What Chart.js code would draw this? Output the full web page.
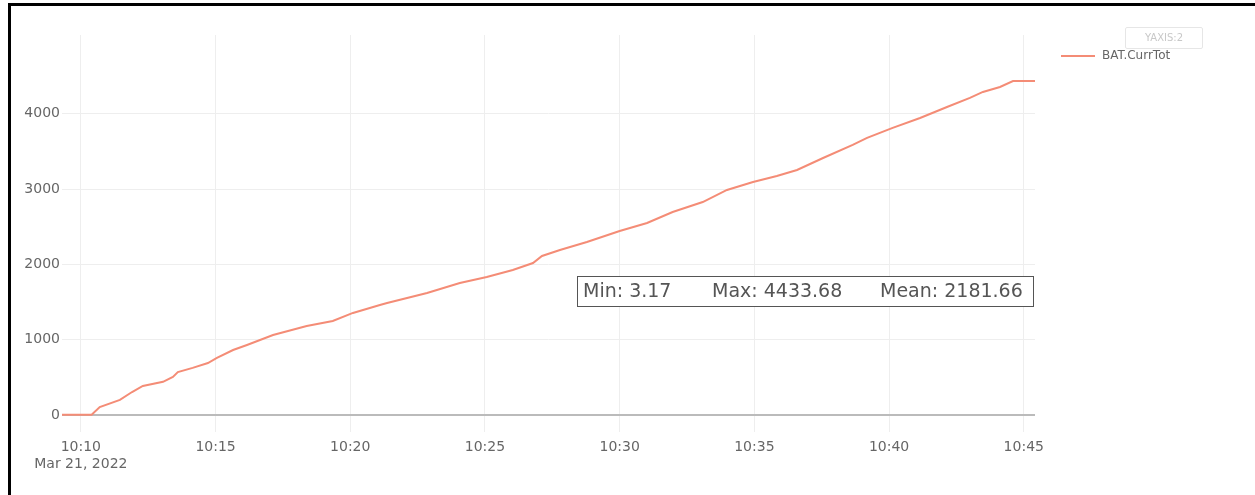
<!DOCTYPE html>
<html>
<head>
<meta charset="utf-8">
<script src="https://cdn.jsdelivr.net/npm/chart.js@4.4.0/dist/chart.umd.min.js"></script>
<style>
  html, body { margin: 0; padding: 0; background: #fff; }
  #wrap { position: relative; width: 1255px; height: 495px; }
  #frame-top { position: absolute; left: 8px; top: 3px; width: 1247px; height: 3px; background: #000; }
  #frame-left { position: absolute; left: 8px; top: 3px; width: 3px; height: 492px; background: #000; }
  #yaxis-btn {
    position: absolute; left: 1125px; top: 27px; width: 76px; height: 20px;
    border: 1px solid #e6e6e6; border-radius: 2px;
    font: 10px "DejaVu Sans", sans-serif; color: #c8c8c8;
    text-align: center; line-height: 20px;
  }
</style>
</head>
<body>
<div id="wrap">
  <canvas id="my-chart" width="1255" height="495"></canvas>
  <div id="frame-top"></div>
  <div id="frame-left"></div>
  <div id="yaxis-btn">YAXIS:2</div>
</div>
<script>
"use strict";

// sample times (hh:mm:ss) and the BAT.CurrTot reading at each one
const times = [
  "10:09:18", "10:10:24", "10:10:42", "10:11:27", "10:11:54", "10:12:18",
  "10:13:03", "10:13:25", "10:13:36", "10:14:09", "10:14:43", "10:15:03",
  "10:15:39", "10:16:10", "10:17:08", "10:18:23", "10:19:21", "10:20:06",
  "10:21:06", "10:21:22", "10:22:51", "10:24:04", "10:25:04", "10:26:02",
  "10:26:47", "10:27:07", "10:27:47", "10:28:47", "10:30:00", "10:31:01",
  "10:31:58", "10:33:05", "10:33:59", "10:34:57", "10:35:50", "10:36:35",
  "10:37:33", "10:38:39", "10:39:11", "10:40:08", "10:41:09", "10:42:09",
  "10:43:00", "10:43:29", "10:44:07", "10:44:36", "10:45:25",
];
const currTot = [
  3.17, 3.17, 106, 200, 305, 385,
  440, 505, 570, 625, 690, 757,
  863, 930, 1062, 1182, 1248, 1355,
  1460, 1487, 1620, 1753, 1833, 1926,
  2018, 2111, 2191, 2297, 2443, 2549,
  2695, 2828, 2988, 3094, 3174, 3253,
  3413, 3586, 3679, 3812, 3944, 4090,
  4210, 4290, 4356, 4433.68, 4433.68,
];
const meanValue = 2181.66;

const xTickLabels = ["10:10", "10:15", "10:20", "10:25", "10:30", "10:35", "10:40", "10:45"];
const dateLabel = "Mar 21, 2022";
const yTicks = [0, 1000, 2000, 3000, 4000];
const seriesName = "BAT.CurrTot";

const lineColor = "rgb(244, 140, 118)";
const fontFamily = '"DejaVu Sans", sans-serif';

function toMinutes(hms) {
  const parts = hms.split(":").map(Number);
  return parts[0] * 60 + parts[1] + (parts[2] || 0) / 60;
}

function fmtMinutes(m) {
  const h = Math.floor(m / 60);
  const mm = Math.round(m - h * 60);
  return h + ":" + String(mm).padStart(2, "0");
}

const points = [];
for (let i = 0; i < times.length; i++) {
  points.push({ x: toMinutes(times[i]), y: currTot[i] });
}

// legend + stats box, drawn after the chart
const overlayPlugin = {
  id: "overlay",
  afterDraw(chart) {
    const ctx = chart.ctx;
    ctx.save();

    // legend entry
    ctx.strokeStyle = lineColor;
    ctx.lineWidth = 2;
    ctx.beginPath();
    ctx.moveTo(1061, 56);
    ctx.lineTo(1095, 56);
    ctx.stroke();
    ctx.fillStyle = "#666";
    ctx.font = "12px " + fontFamily;
    ctx.textBaseline = "middle";
    ctx.fillText(seriesName, 1102, 56);

    // min / max / mean box
    const minV = Math.min(...currTot);
    const maxV = Math.max(...currTot);
    ctx.fillStyle = "#fff";
    ctx.fillRect(577, 276, 456, 30);
    ctx.strokeStyle = "#555";
    ctx.lineWidth = 1;
    ctx.strokeRect(577.5, 276.5, 456, 30);
    ctx.fillStyle = "#555";
    ctx.font = "19px " + fontFamily;
    ctx.fillText("Min: " + minV.toFixed(2), 583, 292);
    ctx.fillText("Max: " + maxV.toFixed(2), 712, 292);
    ctx.fillText("Mean: " + meanValue.toFixed(2), 880, 292);

    ctx.restore();
  },
};

const ctx = document.getElementById("my-chart");

new Chart(ctx, {
  type: "line",
  data: {
    datasets: [
      {
        label: seriesName,
        data: points,
        borderColor: lineColor,
        borderWidth: 2,
        pointRadius: 0,
        tension: 0,
      },
    ],
  },
  options: {
    responsive: false,
    animation: false,
    layout: { padding: { top: 35, right: 220, left: 0, bottom: 0 } },
    plugins: {
      legend: { display: false },
      tooltip: { enabled: false },
    },
    scales: {
      x: {
        type: "linear",
        min: points[0].x,
        max: points[points.length - 1].x,
        afterBuildTicks(scale) {
          scale.ticks = xTickLabels.map((t) => ({ value: toMinutes(t) }));
        },
        afterFit(scale) {
          scale.height = 63;
        },
        border: { display: false },
        grid: { color: "#eeeeee", lineWidth: 1, drawTicks: false },
        ticks: {
          padding: 7,
          maxRotation: 0,
          autoSkip: false,
          color: "#666",
          font: { family: fontFamily, size: 14 },
          callback(value, index) {
            const label = fmtMinutes(value);
            return index === 0 ? [label, dateLabel] : label;
          },
        },
      },
      y: {
        min: -226,
        max: 5046,
        afterBuildTicks(scale) {
          scale.ticks = yTicks.map((v) => ({ value: v }));
        },
        afterFit(scale) {
          scale.width = 62;
        },
        border: { display: false },
        grid: {
          drawTicks: false,
          color: (c) => (c.tick && c.tick.value === 0 ? "#bbbbbb" : "#eeeeee"),
          lineWidth: (c) => (c.tick && c.tick.value === 0 ? 2 : 1),
        },
        ticks: {
          padding: 2,
          color: "#666",
          font: { family: fontFamily, size: 14 },
          callback: (value) => String(value),
        },
      },
    },
  },
  plugins: [overlayPlugin],
});
</script>
</body>
</html>
